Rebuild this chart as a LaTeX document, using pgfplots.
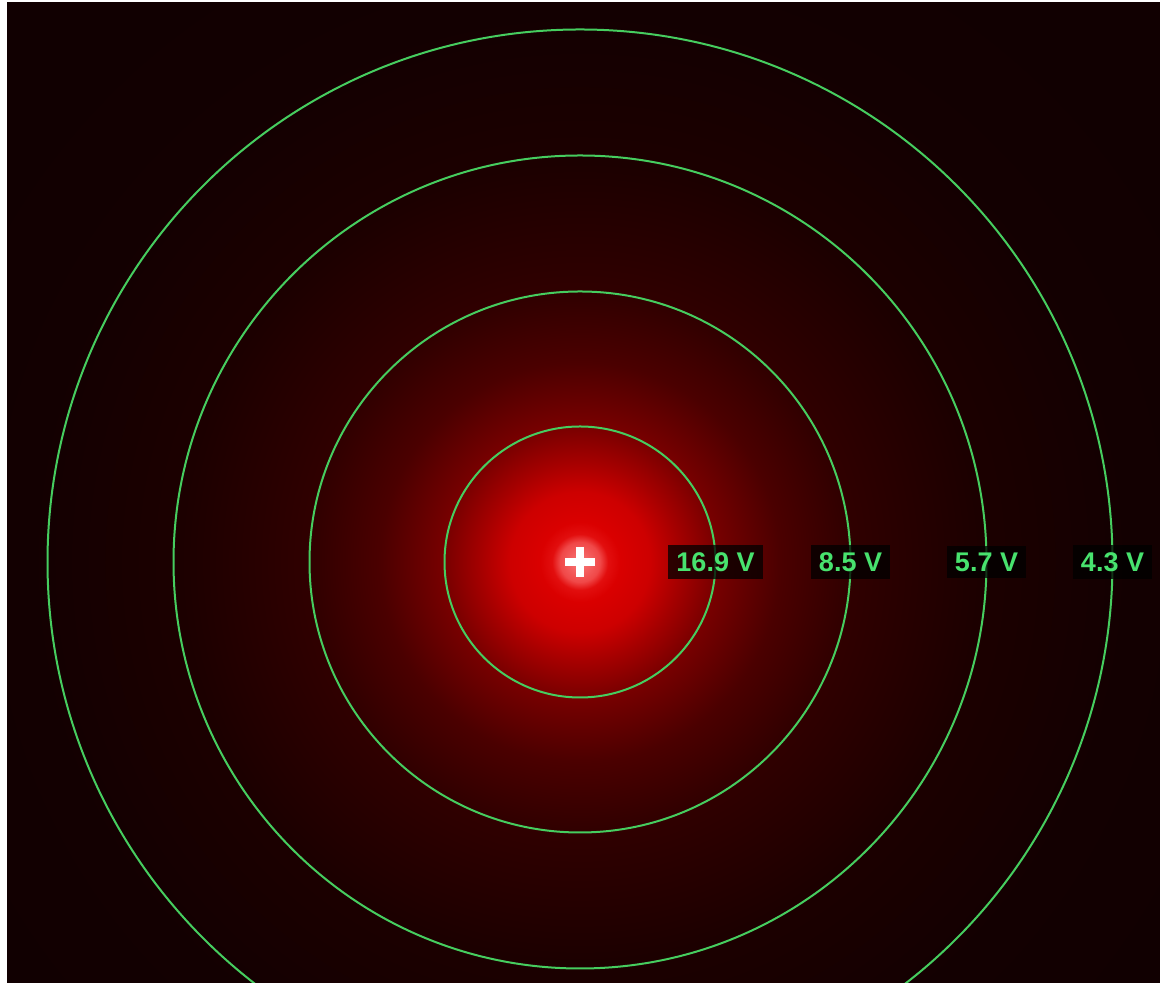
\documentclass[border=0pt]{standalone}
\usepackage{pgfplots}
\pgfplotsset{compat=1.18}
\usepackage{pgfplotstable}
\usepackage{fontspec}
\setmainfont{Liberation Sans}
\usetikzlibrary{backgrounds}

% colours of the field picture
\definecolor{bgdark}{RGB}{17,0,1}
\definecolor{fc0}{RGB}{248,120,120}
\definecolor{fc1}{RGB}{240,72,72}
\definecolor{fc2}{RGB}{226,14,14}
\definecolor{fc3}{RGB}{218,0,0}
\definecolor{fc4}{RGB}{205,0,0}
\definecolor{fc5}{RGB}{165,0,0}
\definecolor{fc6}{RGB}{120,0,0}
\definecolor{fc7}{RGB}{75,0,0}
\definecolor{fc8}{RGB}{48,0,0}
\definecolor{fc9}{RGB}{28,0,0}
\definecolor{fc10}{RGB}{19,0,1}
\definecolor{contourgreen}{RGB}{70,205,95}
\definecolor{labelgreen}{RGB}{72,226,110}

% 1bp of the shading = 40 px of the picture (shaded disc of radius 1000)
\pgfdeclareradialshading{field}{\pgfpoint{0bp}{0bp}}{%
  color(0bp)=(fc0); color(0.5bp)=(fc1); color(0.7bp)=(fc2);
  color(1bp)=(fc3); color(1.75bp)=(fc4); color(2.5bp)=(fc5);
  color(3.4bp)=(fc6); color(5bp)=(fc7); color(6.75bp)=(fc8);
  color(10bp)=(fc9); color(13.75bp)=(fc10); color(17.5bp)=(bgdark);
  color(50bp)=(bgdark)}

% equipotential radius (px) and potential (V)
\pgfplotstableread{
r     y  volt
135.5 0  16.9
270.5 0  8.5
406.5 0  5.7
532.5 0  4.3
}\potentials

\begin{document}
\begin{tikzpicture}[background rectangle/.style={fill=white},
    show background rectangle, inner frame sep=0pt]
\begin{axis}[
    x=0.5pt, y=0.5pt,
    xmin=-573, xmax=580,
    ymin=-421, ymax=559,
    hide axis,
    clip=true,
]
\shade[shading=field] (axis cs:0,0) circle[radius=1000];

\pgfplotsforeachungrouped \i in {0,...,3}{%
  \pgfplotstablegetelem{\i}{r}\of\potentials
  \edef\tmp{\noexpand\draw[contourgreen, line width=1pt]
    (axis cs:0,0) circle[radius=\pgfplotsretval];}%
  \tmp
}

% positive charge
\addplot[only marks, mark=+, mark size=7.5pt, line width=4pt, white]
  coordinates {(0,0)};

% potential labels
\addplot[draw=none, mark=none,
    point meta=explicit symbolic,
    nodes near coords={\pgfplotspointmeta~V},
    every node near coord/.append style={anchor=center,
      text=labelgreen, fill=black, fill opacity=0.75, text opacity=1,
      inner xsep=4pt, inner ysep=3.5pt,
      font=\fontsize{13.5}{15}\selectfont\bfseries},
  ] table[x=r, y=y, meta=volt] {\potentials};
\end{axis}
\path ([shift={(-3.5pt,0pt)}]current axis.south west)
  rectangle ([shift={(0pt,1.5pt)}]current axis.north east);
\end{tikzpicture}
\end{document}
